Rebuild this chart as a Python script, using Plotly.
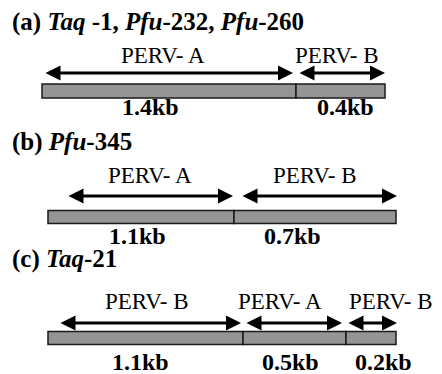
import plotly.graph_objects as go

# ---- data ----
panel_titles = [
    "<b>(a) <i>Taq</i> -1, <i>Pfu</i>-232, <i>Pfu</i>-260</b>",
    "<b>(b) <i>Pfu</i>-345</b>",
    "<b>(c) <i>Taq</i>-21</b>",
]
segment_names = [
    ["PERV- A", "PERV- B"],
    ["PERV- A", "PERV- B"],
    ["PERV- B", "PERV- A", "PERV- B"],
]
segment_kb = [
    [1.4, 0.4],
    [1.1, 0.7],
    [1.1, 0.5, 0.2],
]

# ---- schematic layout (diagram units, not to scale) ----
seg_bounds = [
    [42, 296, 385],
    [48, 234, 396],
    [48, 243, 346, 396],
]
arrow_spans = [
    [(44, 293), (298, 385)],
    [(67, 233), (241, 397)],
    [(59, 241), (245, 342), (347, 397)],
]
name_x = [[163, 337], [150, 315], [147, 280, 391]]
kb_x = [[150, 345], [137, 292], [140, 290, 383]]
title_y = [22, 142, 259]
name_y = [55, 175, 301]
arrow_y = [73, 196, 323]
bar_y = [91, 217, 338]
bar_h = [14, 13, 13]
kb_y = [107, 236, 362]

SERIF = "Liberation Serif"
PAGE_MARGIN = 8  # default body margin of the html page

fig = go.Figure()
annotations = []

for r in range(len(panel_titles)):
    b = seg_bounds[r]
    starts = b[:-1]
    lengths = [b[i + 1] - b[i] for i in range(len(b) - 1)]
    fig.add_trace(go.Bar(
        orientation="h",
        y=[bar_y[r]] * len(lengths),
        x=lengths,
        base=starts,
        width=bar_h[r],
        marker=dict(color="#959595", line=dict(color="#1a1a1a", width=1.5)),
        hoverinfo="skip",
        showlegend=False,
    ))
    annotations.append(dict(
        x=10, y=title_y[r], xref="x", yref="y", text=panel_titles[r],
        showarrow=False, xanchor="left", yanchor="middle",
        font=dict(family=SERIF, size=25, color="black"),
    ))
    for i, name in enumerate(segment_names[r]):
        annotations.append(dict(
            x=name_x[r][i], y=name_y[r], xref="x", yref="y", text=name,
            showarrow=False, xanchor="center", yanchor="middle",
            font=dict(family=SERIF, size=23, color="black"),
        ))
        annotations.append(dict(
            x=kb_x[r][i], y=kb_y[r], xref="x", yref="y",
            text=f"<b>{segment_kb[r][i]}kb</b>",
            showarrow=False, xanchor="center", yanchor="middle",
            font=dict(family=SERIF, size=24, color="black"),
        ))
        x0, x1 = arrow_spans[r][i]
        annotations.append(dict(
            x=x1, y=arrow_y[r], ax=x0, ay=arrow_y[r],
            xref="x", yref="y", axref="x", ayref="y", text="",
            showarrow=True, arrowside="end+start",
            arrowhead=2, startarrowhead=2,
            arrowsize=1, startarrowsize=1, arrowwidth=3,
            arrowcolor="black", standoff=0, startstandoff=0,
        ))

W, H = 442, 374
fig.update_layout(
    width=W - PAGE_MARGIN, height=H - PAGE_MARGIN, autosize=False,
    margin=dict(l=0, r=0, t=0, b=0),
    paper_bgcolor="white", plot_bgcolor="white",
    xaxis=dict(range=[PAGE_MARGIN, W], visible=False, fixedrange=True),
    yaxis=dict(range=[H, PAGE_MARGIN], visible=False, fixedrange=True),
    barmode="overlay",
    annotations=annotations,
    font=dict(family=SERIF),
)

fig.write_html("out.html")
